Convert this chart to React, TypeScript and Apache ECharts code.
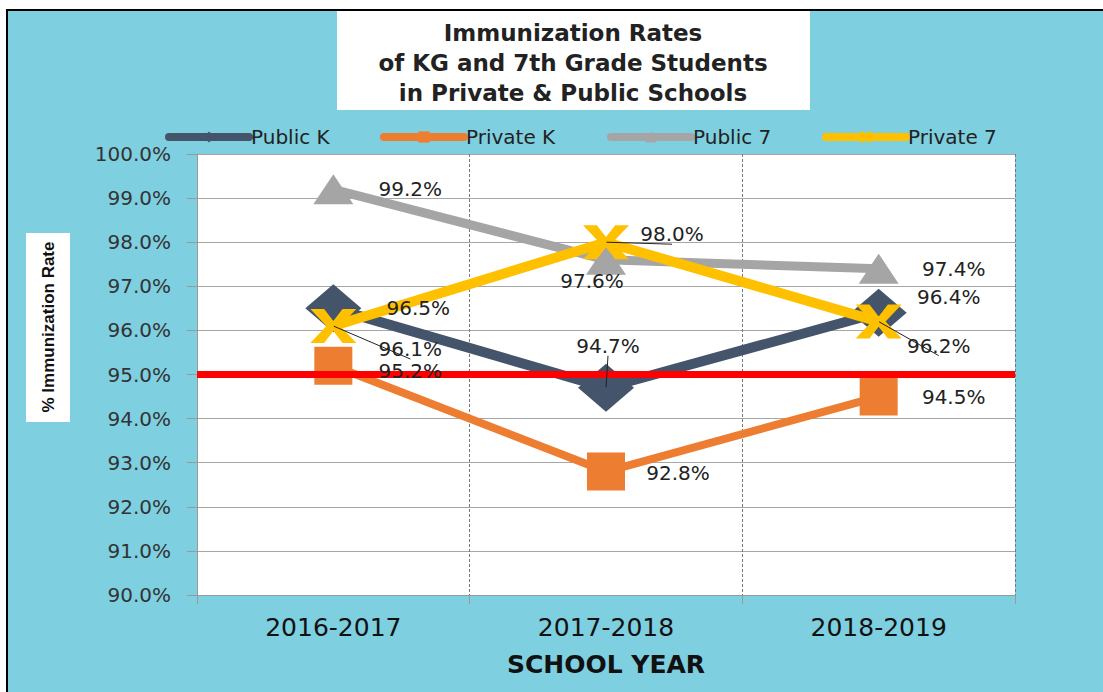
import React, { useEffect, useRef } from "react";
import * as echarts from "echarts";

const categories = ["2016-2017", "2017-2018", "2018-2019"];
const seriesNames = ["Public K", "Private K", "Public 7", "Private 7"];
const publicK = [96.5, 94.7, 96.4];
const privateK = [95.2, 92.8, 94.5];
const public7 = [99.2, 97.6, 97.4];
const private7 = [96.1, 98.0, 96.2];
const targetRate = 95.0;
const titleLines = ["Immunization Rates", "of KG and 7th Grade Students", "in Private & Public Schools"];

const COLORS = ["#44546A", "#ED7D31", "#A5A5A5", "#FFC000"];
const XPATH = "path://M0,0 L30,0 L50,35 L70,0 L100,0 L65,50 L100,100 L70,100 L50,65 L30,100 L0,100 L35,50 Z";

export default function App() {
  const ref = useRef<HTMLDivElement>(null);
  useEffect(() => {
    document.body.style.margin = "0";
    const chart = echarts.init(ref.current!, null, { renderer: "svg" });
    const labelFont = { fontFamily: "DejaVu Sans", fontSize: 20, color: "#222" };
    const mkSeries = (idx: number, vals: number[], symbol: string, size: any, width: number) => ({
      type: "line",
      name: seriesNames[idx],
      data: vals,
      symbol,
      symbolSize: size,
      lineStyle: { color: COLORS[idx], width },
      itemStyle: { color: COLORS[idx] },
      z: 3 + idx,
    });
    const mkLabels = (idx: number, vals: number[], offs: number[][], lines: boolean[]) => ({
      type: "line",
      name: seriesNames[idx] + " labels",
      data: vals.map((v, i) => ({
        value: v,
        label: { show: true, position: "inside", offset: offs[i], formatter: (p: any) => p.value.toFixed(1) + "%", ...labelFont },
        labelLine: { show: lines[i], lineStyle: { color: "#222", width: 1 } },
      })),
      symbol: "circle",
      symbolSize: 1,
      itemStyle: { color: "rgba(0,0,0,0)", borderWidth: 0 },
      lineStyle: { color: "rgba(0,0,0,0)", width: 0 },
      silent: true,
      z: 30,
    });
    const legendPos = [160, 375, 602, 817];
    chart.setOption({
      animation: false,
      backgroundColor: "#ffffff",
      graphic: [
        { type: "rect", z: -100, shape: { x: 7, y: 10, width: 1100, height: 690 }, style: { fill: "#7ECFE0", stroke: "#000", lineWidth: 2 } },
        { type: "rect", z: -90, shape: { x: 337, y: 11, width: 473, height: 99 }, style: { fill: "#fff" } },
        ...titleLines.map((t, i) => ({
          type: "text", z: -80, x: 573, y: 33 + i * 30,
          style: { text: t, fill: "#222", font: "bold 23px 'DejaVu Sans'", textAlign: "center", textVerticalAlign: "middle" },
        })),
        { type: "rect", z: -90, shape: { x: 26, y: 233, width: 44, height: 189 }, style: { fill: "#fff" } },
        {
          type: "text", z: -80, x: 48, y: 327, rotation: Math.PI / 2,
          style: { text: "% Immunization Rate", fill: "#111", font: "bold 17px 'Liberation Sans'", textAlign: "center", textVerticalAlign: "middle" },
        },
      ],
      legend: seriesNames.map((n, i) => ({
        data: [n],
        left: legendPos[i],
        top: 122,
        itemWidth: 80,
        itemHeight: 14,
        itemGap: 2,
        lineStyle: { width: 8, cap: "round" },
        textStyle: { fontFamily: "DejaVu Sans", fontSize: 20, color: "#222", padding: [0, 0, 0, -3] },
      })),
      grid: { left: 197, top: 154, width: 818, height: 441, show: true, backgroundColor: "#ffffff", borderWidth: 0 },
      xAxis: {
        type: "category",
        data: categories,
        boundaryGap: true,
        axisLine: { show: true, lineStyle: { color: "#999", width: 1 } },
        axisTick: { show: true, length: 9, lineStyle: { color: "#999" } },
        axisLabel: { fontFamily: "DejaVu Sans", fontSize: 25, color: "#111", margin: 20 },
        splitLine: { show: true, lineStyle: { color: "#777", type: [3, 2], width: 1 } },
        name: "SCHOOL YEAR",
        nameLocation: "middle",
        nameGap: 57,
        nameTextStyle: { fontFamily: "DejaVu Sans", fontWeight: "bold", fontSize: 25, color: "#111" },
      },
      yAxis: {
        type: "value",
        min: 90,
        max: 100,
        interval: 1,
        axisLine: { show: true, lineStyle: { color: "#999", width: 1 } },
        axisTick: { show: true, length: 10, lineStyle: { color: "#999" } },
        axisLabel: { fontFamily: "DejaVu Sans", fontSize: 20, color: "#333", margin: 26, formatter: (v: number) => v.toFixed(1) + "%" },
        splitLine: { show: true, lineStyle: { color: "#A6A6A6", width: 1 } },
      },
      series: [
        mkSeries(0, publicK, "diamond", [56, 48], 10),
        mkSeries(1, privateK, "rect", 38, 8),
        mkSeries(2, public7, "triangle", [40, 30], 9),
        mkSeries(3, private7, XPATH, [46, 34], 10),
        mkLabels(0, publicK, [[85, 0], [2, -42], [70, -16]], [false, true, false]),
        mkLabels(1, privateK, [[77, 5], [72, 1], [75, 0]], [false, false, false]),
        mkLabels(2, public7, [[77, 0], [-14, 21], [75, 0]], [false, false, false]),
        mkLabels(3, private7, [[77, 23], [66, -8], [60, 24]], [true, true, true]),
        {
          type: "line",
          name: "target",
          data: [],
          z: 40,
          markLine: {
            symbol: "none",
            silent: true,
            label: { show: false },
            lineStyle: { color: "#FF0000", width: 7, type: "solid" },
            data: [{ yAxis: targetRate }],
          },
        },
      ],
    });
    return () => chart.dispose();
  }, []);
  return <div ref={ref} style={{ width: 1103, height: 692 }} />;
}
